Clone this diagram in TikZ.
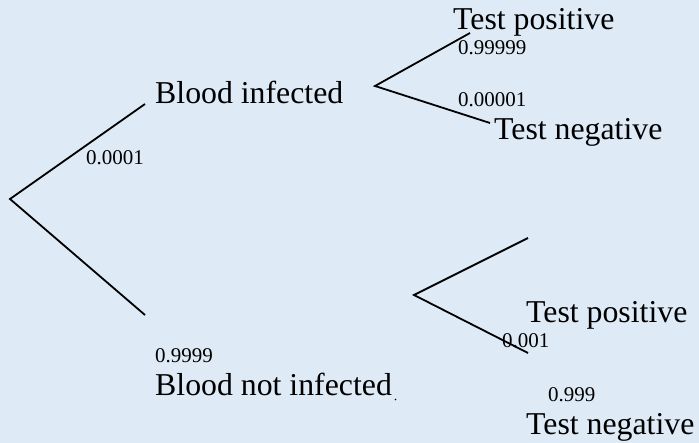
\documentclass[tikz,border=0pt]{standalone}
\usepackage{fontspec}
\setmainfont{Liberation Serif}
\definecolor{paneblue}{HTML}{DEEAF6}
\tikzset{
  branch/.style={line width=1.8pt, black},
  outcome/.style={anchor=base west, inner sep=0pt, font=\fontsize{31.8}{36}\selectfont},
  prob/.style={anchor=base west, inner sep=0pt, font=\fontsize{21}{24}\selectfont},
}
\begin{document}
\begin{tikzpicture}[x=1pt,y=-1pt]
  % background panel
  \fill[paneblue] (0,0) rectangle (699,443);
  \useasboundingbox (0,0) rectangle (699,443);

  % branch points and free ends
  \coordinate (root) at (10,199);
  \coordinate (infEnd) at (145,104);
  \coordinate (notEnd) at (145,315);
  \coordinate (infFork) at (375,86);
  \coordinate (infPos) at (470,33);
  \coordinate (infNeg) at (490,123);
  \coordinate (notFork) at (414,295);
  \coordinate (notPos) at (528,238);
  \coordinate (notNeg) at (528,353);

  % first stage
  \draw[branch] (infEnd) -- (root) -- (notEnd);
  % second stage
  \draw[branch] (infPos) -- (infFork) -- (infNeg);
  \draw[branch] (notPos) -- (notFork) -- (notNeg);

  % outcomes
  \node[outcome] (inf) at (155,104) {Blood infected};
  \node[outcome] (notinf) at (155,396) {Blood not infected};
  \node[outcome] (pos1) at (453,30) {Test positive};
  \node[outcome] (neg1) at (494,140) {Test negative};
  \node[outcome] (pos2) at (526,323) {Test positive};
  \node[outcome] (neg2) at (526,435) {Test negative};

  % probabilities
  \node[prob] (p1) at (86,165) {0.0001};
  \node[prob] (p2) at (155,363) {0.9999};
  \node[prob] (p3) at (458,55) {0.99999};
  \node[prob] (p4) at (458,107) {0.00001};
  \node[prob] (p5) at (502,348) {0.001};
  \node[prob] (p6) at (548,402) {0.999};

  % stray mark after the lower label
  \fill (395.5,399.5) circle (0.9);
\end{tikzpicture}
\end{document}
